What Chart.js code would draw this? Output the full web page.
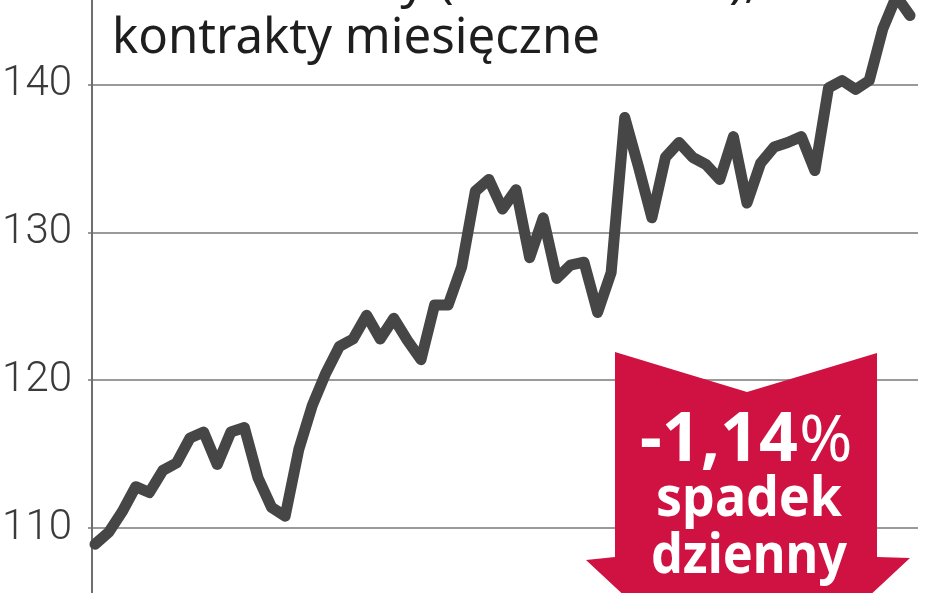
<!DOCTYPE html>
<html>
<head>
<meta charset="utf-8">
<script src="https://cdn.jsdelivr.net/npm/chart.js@4.4.1/dist/chart.umd.min.js"></script>
<style>
  html, body { margin: 0; padding: 0; background: #fff; }
  #wrap { width: 948px; height: 593px; position: relative; }
</style>
</head>
<body>
<div id="wrap"><canvas id="chart"></canvas></div>
<script>
// DATA

const prices = [
    108.9, 109.7, 111.1, 112.8, 112.4, 113.9, 114.4, 116.1, 116.5, 114.3,
    116.5, 116.8, 113.4, 111.4, 110.8, 115.3, 118.3, 120.5, 122.3, 122.8,
    124.4, 122.8, 124.2, 122.7, 121.4, 125.1, 125.1, 127.7, 132.8, 133.6,
    131.6, 132.9, 128.3, 131.0, 126.9, 127.8, 128.0, 124.6, 127.3, 137.8,
    134.5, 131.0, 135.1, 136.1, 135.1, 134.6, 133.6, 136.5, 132.0, 134.7,
    135.8, 136.1, 136.5, 134.2, 139.8, 140.3, 139.7, 140.3, 143.8, 146.0,
    144.7
];
const sessions = prices.map((_, i) => i);
const yTicks = [110, 120, 130, 140];

const titleTop = "Cena herbaty (USD za funt),";
const titleMain = "kontrakty miesięczne";
const changeValue = "-1,14";
const changeUnit = "%";
const changeLines = ["spadek", "dzienny"];


// OVERLAY: title + red arrow

const overlay = {
    id: "overlay",
    afterDatasetsDraw(chart) {
        const ctx = chart.ctx;
        ctx.save();

        // title (first line is mostly cut off at the top edge)
        ctx.fillStyle = "#1e1e1e";
        ctx.textBaseline = "alphabetic";
        ctx.textAlign = "left";
        ctx.font = "400 50px 'Noto Sans'";
        ctx.fillText(titleTop, 112, -3);
        ctx.fillText(titleMain, 112, 53, 488);

        // arrow
        ctx.fillStyle = "#d01242";
        ctx.beginPath();
        ctx.moveTo(615, 352);
        ctx.lineTo(747, 392);
        ctx.lineTo(877, 353);
        ctx.lineTo(877, 557);
        ctx.lineTo(910, 558);
        ctx.lineTo(747, 710);
        ctx.lineTo(586, 560);
        ctx.lineTo(615, 557);
        ctx.closePath();
        ctx.fill();

        // arrow text
        ctx.fillStyle = "#ffffff";
        ctx.font = "700 68px 'Noto Sans'";
        const wNum = ctx.measureText(changeValue).width;
        ctx.font = "400 64px 'Noto Sans'";
        const wPct = ctx.measureText(changeUnit).width;
        const scale = 213 / (wNum + wPct);
        const x0 = 640;
        ctx.font = "700 68px 'Noto Sans'";
        ctx.fillText(changeValue, x0, 461, wNum * scale);
        ctx.font = "400 64px 'Noto Sans'";
        ctx.fillText(changeUnit, x0 + wNum * scale, 461, wPct * scale);

        ctx.textAlign = "center";
        ctx.font = "700 56px 'Noto Sans'";
        ctx.fillText(changeLines[0], 749, 516, 186);
        ctx.fillText(changeLines[1], 749, 573, 196);

        ctx.restore();
    }
};


// CHART

new Chart(document.getElementById("chart"), {
    type: "line",
    data: {
        datasets: [{
            data: sessions.map((s, i) => ({ x: s, y: prices[i] })),
            borderColor: "#464646",
            borderWidth: 11,
            borderJoinStyle: "round",
            borderCapStyle: "round",
            pointRadius: 0,
            tension: 0,
            clip: false
        }]
    },
    options: {
        responsive: true,
        maintainAspectRatio: false,
        animation: false,
        layout: { padding: { top: 0, bottom: 0, left: 0, right: 30 } },
        plugins: { legend: { display: false }, tooltip: { enabled: false } },
        scales: {
            x: {
                type: "linear",
                display: false,
                min: -0.22,
                max: 60.59
            },
            y: {
                min: 105.6,
                max: 145.75,
                afterBuildTicks: s => { s.ticks = yTicks.map(v => ({ value: v })); },
                afterFit: s => {
                    s.width = 92;
                    s.paddingTop = 0;
                    s.paddingBottom = 0;
                },
                grid: {
                    color: "#9a9a9a",
                    lineWidth: 2,
                    tickLength: 4,
                    drawTicks: true
                },
                border: { color: "#6e6e6e", width: 2 },
                ticks: {
                    padding: 16,
                    color: "#3a3a3a",
                    font: { family: "Roboto", weight: "300", size: 42 }
                }
            }
        }
    },
    plugins: [overlay]
});
</script>
</body>
</html>
